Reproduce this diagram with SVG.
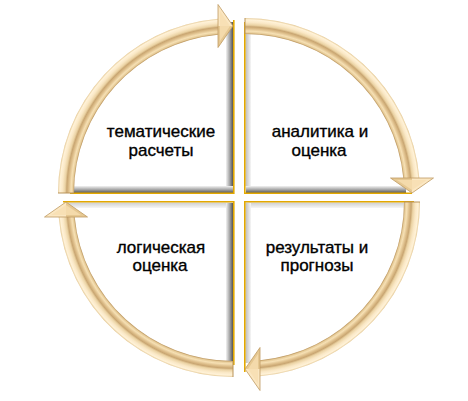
<svg xmlns="http://www.w3.org/2000/svg" xmlns:xlink="http://www.w3.org/1999/xlink" width="468" height="401" viewBox="0 0 468 401">
<style>
.gold{stroke:#E3A800;stroke-width:1.6;fill:none}
.lbl{font-family:"Liberation Sans",Arial,sans-serif;font-size:17px;fill:#000;stroke:#000;stroke-width:0.35;text-anchor:middle}
</style>
<defs>
<radialGradient id="band" gradientUnits="userSpaceOnUse" cx="0" cy="0" r="175">
<stop offset="0.9086" stop-color="#BF9A62"/>
<stop offset="0.915" stop-color="#E6CB98"/>
<stop offset="0.925" stop-color="#F6E0B4"/>
<stop offset="0.94" stop-color="#DCBC88"/>
<stop offset="0.95" stop-color="#C9A672"/>
<stop offset="0.96" stop-color="#EBD3A4"/>
<stop offset="0.975" stop-color="#FAE8C6"/>
<stop offset="0.99" stop-color="#FFF2D8"/>
<stop offset="1" stop-color="#E4C894"/>
</radialGradient>
<linearGradient id="darkH" x1="0" y1="0" x2="1" y2="0">
<stop offset="0" stop-color="#f2f2f2"/><stop offset="0.5" stop-color="#a8a8a8"/><stop offset="1" stop-color="#555"/>
</linearGradient>
<linearGradient id="darkV" x1="0" y1="0" x2="0" y2="1">
<stop offset="0" stop-color="#f2f2f2"/><stop offset="0.5" stop-color="#a8a8a8"/><stop offset="1" stop-color="#555"/>
</linearGradient>
<linearGradient id="lightH" x1="0" y1="0" x2="1" y2="0">
<stop offset="0" stop-color="#bdbdbd"/><stop offset="1" stop-color="#f6f6f6"/>
</linearGradient>
<linearGradient id="lightV" x1="0" y1="0" x2="0" y2="1">
<stop offset="0" stop-color="#cfcfcf"/><stop offset="1" stop-color="#f6f6f6"/>
</linearGradient>
<g id="arc">
<path d="M-175,0 A175,175 0 0 1 -15,-174.36 L-15,-158.29 A159,159 0 0 0 -159,0 Z" fill="url(#band)"/>
<path d="M-175,0 L-159,0" stroke="#B8935A" stroke-width="1"/>
<polygon points="-15,-188.5 0,-167 -15,-167" fill="#FBE7C2"/>
<polygon points="-15,-167 0,-167 -15,-145.5" fill="#E6C892"/>
<polygon points="-13,-182 -3,-167 -13,-152" fill="#F7DFB2" opacity="0.8"/>
<polygon points="-15,-188.5 0,-167 -15,-145.5" fill="none" stroke="#BF9A62" stroke-width="0.8"/>
</g>
</defs>
<rect width="468" height="401" fill="#fff"/>

<g id="node-tl">
<rect x="226" y="22" width="7" height="171" fill="url(#darkH)"/>
<rect x="72" y="186" width="161" height="7" fill="url(#darkV)"/>
<path class="gold" d="M233.8,20 V193.2 H70"/>
<text class="lbl" x="161" y="137">тематические</text>
<text class="lbl" x="161" y="156">расчеты</text>
</g>

<g id="node-tr">
<rect x="245.5" y="30" width="5.5" height="156" fill="url(#lightH)"/>
<rect x="246" y="186" width="160" height="7" fill="url(#darkV)"/>
<path class="gold" d="M244.8,22 V193.2 H412"/>
<text class="lbl" x="320" y="137">аналитика  и</text>
<text class="lbl" x="319" y="156">оценка</text>
</g>

<g id="node-br">
<rect x="246" y="202.5" width="166" height="5.5" fill="url(#lightV)"/>
<rect x="245.5" y="203" width="5.5" height="160" fill="url(#lightH)"/>
<path class="gold" d="M244.8,372 V201.8 H414"/>
<text class="lbl" x="317" y="253">результаты и</text>
<text class="lbl" x="317" y="271">прогнозы</text>
</g>

<g id="node-bl">
<rect x="64" y="202.5" width="169" height="5.5" fill="url(#lightV)"/>
<rect x="226" y="203" width="7" height="162" fill="url(#darkH)"/>
<path class="gold" d="M63,201.8 H233.8 V365"/>
<text class="lbl" x="161" y="253">логическая</text>
<text class="lbl" x="160" y="271">оценка</text>
</g>

<g id="connectors">
<use xlink:href="#arc" transform="translate(233,193)"/>
<use xlink:href="#arc" transform="translate(245,193) rotate(90)"/>
<use xlink:href="#arc" transform="translate(245,202) rotate(180)"/>
<use xlink:href="#arc" transform="translate(233,202) rotate(270)"/>
</g>
</svg>
